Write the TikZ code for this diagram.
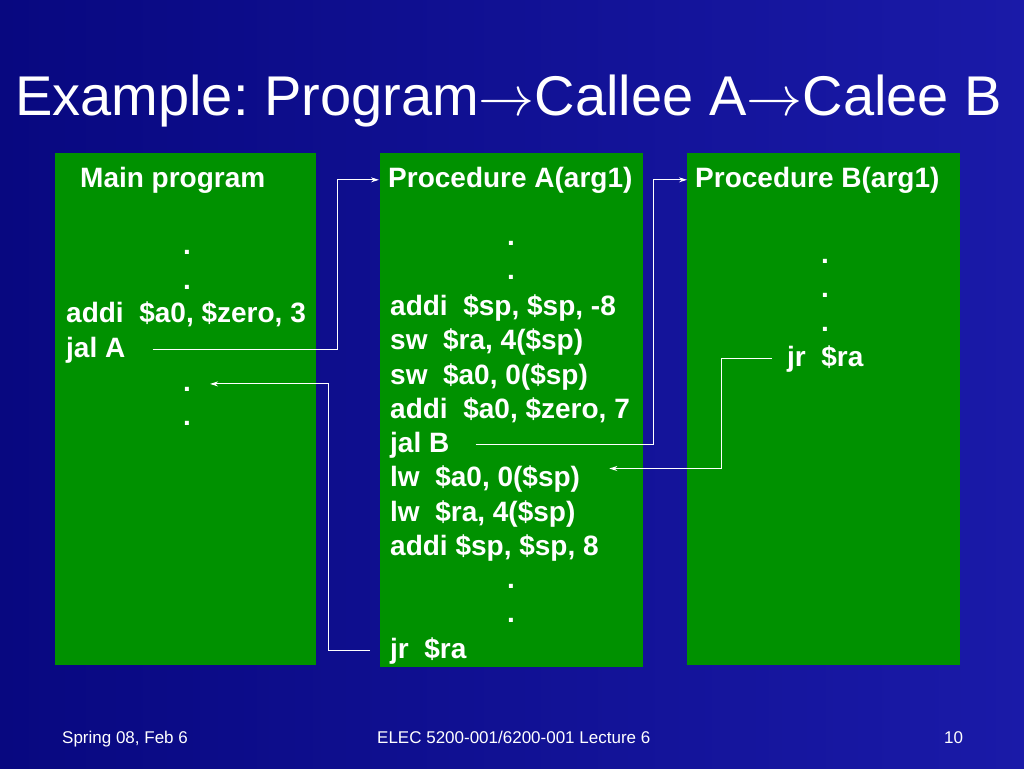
\RequirePackage{fix-cm}
\documentclass[tikz,border=0pt]{standalone}
\usepackage{fontspec}
\setmainfont{Liberation Sans}
\usetikzlibrary{arrows.meta}
\frenchspacing

\definecolor{slidebgA}{RGB}{8,8,128}
\definecolor{slidebgB}{RGB}{26,26,168}
\definecolor{codegreen}{RGB}{0,145,0}

\begin{document}
\begin{tikzpicture}[x=1pt, y=-1pt,
  box/.style={fill=codegreen, draw=none},
  code/.style={anchor=base west, inner sep=0pt, text=white, font=\fontsize{28}{34}\selectfont\bfseries},
  dotline/.style={code, anchor=base},
  title/.style={anchor=base west, inner sep=0pt, text=white, font=\fontsize{56}{67}\selectfont},
  foot/.style={anchor=base west, inner sep=0pt, text=white, font=\fontsize{17}{20}\selectfont},
  arr/.style={-{Stealth[length=8pt,width=5pt]}, white, line width=1pt}
]
  % Background
  \useasboundingbox (0,0) rectangle (1024,768);
  \shade[left color=slidebgA, right color=slidebgB] (0,0) rectangle (1024,768);

  % Title
  \node[title] (title) at (15,115) {Example: Program$\rightarrow$Callee A$\rightarrow$Calee B};

  % Boxes
  \fill[box] (55,153) rectangle (316,665);
  \fill[box] (380,153) rectangle (643,667);
  \fill[box] (687,153) rectangle (960,665);

  % Main program
  \node[code] (headM) at (80,187) {Main program};
  \foreach \y/\n in {254/dotMa, 289/dotMb, 391/dotMc, 425/dotMd}
    \node[dotline] (\n) at (187,\y) {.};
  \node[code] (addiM) at (66,322) {addi\ \ \$a0, \$zero, 3};
  \node[code] (jalA) at (66,357) {jal A};

  % Procedure A
  \node[code] (headA) at (388,187) {Procedure A(arg1)};
  \foreach \y/\n in {245/dotAa, 279/dotAb, 588/dotAc, 622/dotAd}
    \node[dotline] (\n) at (511,\y) {.};
  \node[code] (addiA) at (390,315) {addi\ \ \$sp, \$sp, -8};
  \node[code] (swRa) at (390,349) {sw\ \ \$ra, 4(\$sp)};
  \node[code] (swA0) at (390,384) {sw\ \ \$a0, 0(\$sp)};
  \node[code] (addiB) at (390,418) {addi\ \ \$a0, \$zero, 7};
  \node[code] (jalB) at (390,452) {jal B};
  \node[code] (lwA0) at (390,486) {lw\ \ \$a0, 0(\$sp)};
  \node[code] (lwRa) at (390,521) {lw\ \ \$ra, 4(\$sp)};
  \node[code] (addiC) at (390,555) {addi \$sp, \$sp, 8};
  \node[code] (jrA) at (390,658) {jr\ \ \$ra};

  % Procedure B
  \node[code] (headB) at (695,187) {Procedure B(arg1)};
  \foreach \y/\n in {263/dotBa, 297/dotBb, 331/dotBc}
    \node[dotline] (\n) at (825,\y) {.};
  \node[code] (jrB) at (787,366) {jr\ \ \$ra};

  % Footer
  \node[foot] (date) at (62,743) {Spring 08, Feb 6};
  \node[foot] (course) at (377,743) {ELEC 5200-001/6200-001 Lecture 6};
  \node[foot] (page) at (944,743) {10};

  % Arrows
  \draw[arr] ([xshift=27pt]jalA.east) -| ([xshift=-51pt]headA.west) -- ([xshift=-9pt]headA.west);
  \draw[arr] ([xshift=26pt]jalB.east) -| ([xshift=-42pt]headB.west) -- ([xshift=-8pt]headB.west);
  \draw[arr] ([xshift=-15pt]jrB.west) -- ++(-51,0) |- ([xshift=29pt,yshift=10pt]lwA0.east);
  \draw[arr] ([xshift=-20pt]jrA.west) -- ++(-42,0) |- ([xshift=19pt,yshift=5pt]dotMc.east);
\end{tikzpicture}
\end{document}
